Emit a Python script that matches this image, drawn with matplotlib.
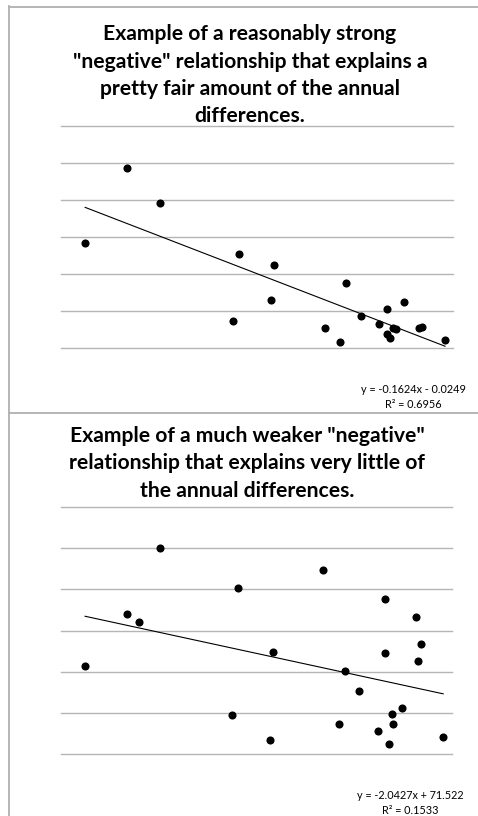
import matplotlib
matplotlib.use("Agg")
import matplotlib.pyplot as plt
import numpy as np
from matplotlib.lines import Line2D

plt.rcParams['font.family'] = ['Lato', 'DejaVu Sans']

# Panel 1: reasonably strong negative relationship
x1 = [-5.60, -2.90, -0.79, 3.90, 4.27, 6.34, 6.51, 9.79, 10.77, 11.18, 12.12,
      13.27, 13.75, 13.75, 14.00, 14.17, 14.33, 14.86, 15.84, 16.06, 17.51]
y1 = [-0.15, 1.87, 0.91, -2.26, -0.46, -1.70, -0.76, -2.44, -2.83, -1.25, -2.12,
      -2.35, -1.93, -2.61, -2.72, -2.46, -2.48, -1.76, -2.46, -2.43, -2.78]
title1 = 'Example of a reasonably strong\n"negative" relationship that explains a\npretty fair amount of the annual\ndifferences.'
eq1 = 'y = -0.1624x - 0.0249\nR² = 0.6956'

# Panel 2: much weaker negative relationship
x2 = [-5.60, -2.92, -2.15, -0.80, 3.86, 4.25, 6.32, 6.47, 9.72, 10.73, 11.14, 12.06,
      13.23, 13.68, 13.68, 13.94, 14.13, 14.24, 14.80, 15.67, 15.80, 16.02, 17.45]
y2 = [53.4, 85.3, 80.1, 125.0, 23.6, 100.9, 8.5, 62.3, 112.0, 18.4, 50.3, 38.6,
      14.1, 94.0, 61.5, 6.3, 24.3, 18.2, 27.9, 83.3, 56.8, 67.1, 10.7]
title2 = 'Example of a much weaker "negative"\nrelationship that explains very little of\nthe annual differences.'
eq2 = 'y = -2.0427x + 71.522\nR² = 0.1533'

W, H = 478, 816
fig = plt.figure(figsize=(W / 100, H / 100), dpi=100)
fig.patch.set_facecolor('white')

grid_col = '#b5b5b5'


def panel(rect, xs, ys, ylim, ystep):
    ax = fig.add_axes(rect)
    ax.scatter(xs, ys, s=34, color='black', zorder=3, linewidths=0)
    # linear trendline (least squares), drawn over the data range
    k, b = np.polyfit(xs, ys, 1)
    xx = np.array([min(xs), max(xs)])
    ax.plot(xx, k * xx + b, color='black', lw=0.8, zorder=2)
    ax.set_xlim(-7.15, 18.0)
    ax.set_ylim(*ylim)
    ax.set_yticks(np.arange(ylim[0], ylim[1] + ystep / 2, ystep))
    ax.set_xticks([])
    ax.tick_params(left=False, labelleft=False)
    ax.grid(axis='y', color=grid_col, lw=1.0)
    for gl in ax.get_ygridlines():
        gl.set_clip_on(False)
    for s in ax.spines.values():
        s.set_visible(False)
    ax.set_facecolor('none')
    return ax


panel([61 / W, 1 - 348.3 / H, 391.7 / W, 222.6 / H], x1, y1, (-3, 3), 1)
panel([61 / W, 1 - 754.3 / H, 390.7 / W, 247.3 / H], x2, y2, (0, 150), 25)

fig.text(250 / W, 1 - 24.5 / H, title1, ha='center', va='top', fontsize=15.2,
         fontweight='bold', linespacing=1.45)
fig.text(247 / W, 1 - 425.5 / H, title2, ha='center', va='top', fontsize=15.2,
         fontweight='bold', linespacing=1.47)

fig.text(413 / W, 1 - 384 / H, eq1, ha='center', va='top', fontsize=7.8,
         linespacing=1.5)
fig.text(410.5 / W, 1 - 790 / H, eq2, ha='center', va='top', fontsize=7.8,
         linespacing=1.5)

# panel borders
bc = '#b0b0b0'
for yb in (6.5, 412.5):
    fig.add_artist(Line2D([8.5 / W, 1], [1 - yb / H] * 2, color=bc, lw=1.3))
fig.add_artist(Line2D([8.5 / W] * 2, [1 - 6 / H, 0], color=bc, lw=1.3))

fig.savefig('out.png', dpi=100, facecolor='white')
